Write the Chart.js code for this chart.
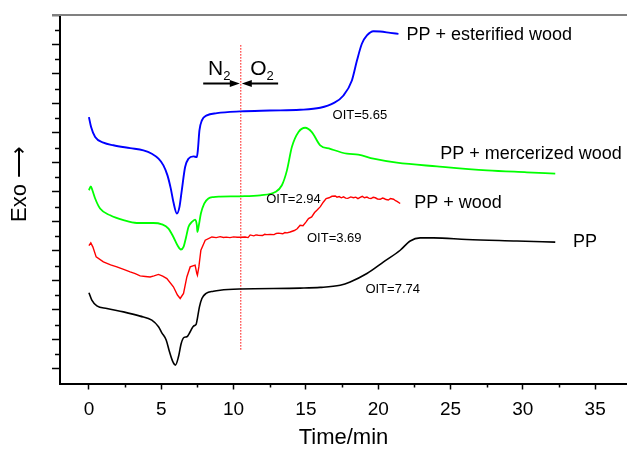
<!DOCTYPE html>
<html>
<head>
<meta charset="utf-8">
<script src="https://cdn.jsdelivr.net/npm/chart.js@4/dist/chart.umd.min.js"></script>
<style>
  html, body { margin: 0; padding: 0; background: #fff; }
</style>
</head>
<body>
<canvas id="oitChart" width="627" height="451"></canvas>
<script>
// DSC curves (time in min, exo signal in arbitrary units)
const esterTime = [0, 0.15, 0.43, 1.0, 1.69, 2.85, 3.77, 4.35, 4.81, 5.15, 5.43, 5.66, 5.84, 6.08, 6.26, 6.42, 6.65, 6.88, 7.23, 7.46, 7.53, 7.64, 7.81, 8.15, 8.85, 10.46, 12.5, 14.6, 15.99, 16.91, 17.6, 18.18, 18.53, 18.87, 19.22, 19.67, 20.14, 20.83, 21.4];
const esterExo = [18.07, 17.40, 16.72, 16.34, 16.16, 15.97, 15.82, 15.59, 15.25, 14.80, 14.12, 13.22, 12.31, 11.53, 11.98, 13.11, 14.69, 15.25, 15.41, 15.36, 15.82, 17.17, 17.85, 18.19, 18.34, 18.46, 18.52, 18.57, 18.71, 19.02, 19.54, 20.56, 21.91, 23.05, 23.61, 23.90, 23.88, 23.79, 23.72];

const mercTime = [0, 0.13, 0.24, 0.43, 0.77, 1.47, 2.39, 3.31, 4.46, 5.04, 5.5, 5.84, 6.12, 6.36, 6.54, 6.72, 6.88, 7.12, 7.34, 7.46, 7.5, 7.6, 7.74, 7.97, 8.26, 8.61, 9.07, 10.46, 11.84, 12.88, 13.34, 13.69, 14.03, 14.49, 14.95, 15.41, 15.99, 16.68, 17.84, 18.62, 19.67, 21.29, 24.06, 27.52, 30.28, 32.24];
const mercExo = [13.11, 13.38, 13.11, 12.55, 11.87, 11.41, 11.08, 10.89, 10.89, 10.80, 10.51, 9.94, 9.38, 9.09, 9.27, 9.94, 10.62, 10.96, 11.12, 10.74, 10.28, 10.74, 11.53, 12.21, 12.55, 12.65, 12.68, 12.70, 12.77, 12.99, 13.45, 14.46, 16.04, 17.06, 17.35, 17.06, 16.16, 15.92, 15.59, 15.53, 15.25, 14.98, 14.73, 14.46, 14.33, 14.24];

const woodTime = [0, 0.13, 0.27, 0.5, 1.0, 1.5, 1.93, 2.4, 2.85, 3.2, 3.54, 3.9, 4.23, 4.5, 4.81, 5.1, 5.39, 5.84, 6.12, 6.31, 6.54, 6.77, 7.0, 7.34, 7.46, 7.5, 7.6, 7.74, 8.04, 8.5, 8.8, 9.07, 9.3, 9.5, 9.75, 10.0, 10.25, 10.46, 10.8, 11.0, 11.15, 11.4, 11.55, 11.7, 12.0, 12.15, 12.3, 12.53, 12.8, 12.95, 13.1, 13.4, 13.55, 13.7, 13.91, 14.2, 14.4, 14.6, 14.8, 15.0, 15.18, 15.4, 15.6, 15.76, 16.0, 16.2, 16.4, 16.6, 16.8, 17.03, 17.15, 17.3, 17.45, 17.6, 17.75, 17.9, 18.1, 18.29, 18.45, 18.6, 18.75, 18.9, 19.05, 19.22, 19.35, 19.5, 19.65, 19.8, 19.95, 20.14, 20.3, 20.4, 20.55, 20.7, 20.85, 21.06, 21.2, 21.3, 21.52];
const woodExo = [9.35, 9.54, 9.27, 8.59, 8.25, 8.05, 7.91, 7.74, 7.57, 7.45, 7.30, 7.26, 7.23, 7.30, 7.40, 7.28, 7.12, 6.56, 6.00, 5.77, 6.11, 7.23, 7.91, 8.03, 7.46, 7.35, 7.91, 9.04, 9.72, 9.94, 9.90, 9.96, 9.91, 9.93, 9.90, 9.95, 9.92, 9.92, 9.94, 9.90, 10.08, 10.02, 10.08, 10.06, 10.04, 10.12, 10.10, 10.12, 10.10, 10.18, 10.20, 10.16, 10.24, 10.22, 10.28, 10.38, 10.50, 10.74, 10.70, 10.95, 11.19, 11.30, 11.60, 11.75, 12.00, 12.30, 12.55, 12.60, 12.70, 12.72, 12.64, 12.68, 12.60, 12.66, 12.58, 12.56, 12.66, 12.60, 12.64, 12.54, 12.62, 12.70, 12.60, 12.65, 12.58, 12.55, 12.63, 12.60, 12.52, 12.50, 12.58, 12.55, 12.48, 12.45, 12.55, 12.50, 12.40, 12.35, 12.21];

const ppTime = [0, 0.2, 0.55, 1.24, 2.39, 3.54, 4.35, 4.81, 5.04, 5.34, 5.57, 5.8, 5.98, 6.19, 6.38, 6.58, 6.77, 7.0, 7.23, 7.41, 7.5, 7.64, 7.81, 8.1, 8.61, 9.07, 10.46, 14.6, 15.99, 17.37, 18.06, 19.22, 20.37, 21.52, 22.21, 22.9, 23.82, 26.13, 29.59, 32.24];
const ppExo = [6.16, 5.66, 5.27, 5.09, 4.86, 4.57, 4.30, 3.85, 3.44, 2.95, 2.15, 1.48, 1.25, 1.81, 2.72, 3.13, 3.17, 3.51, 3.90, 4.01, 4.42, 5.20, 5.77, 6.11, 6.26, 6.33, 6.41, 6.47, 6.52, 6.67, 6.89, 7.46, 8.25, 9.04, 9.67, 9.88, 9.88, 9.77, 9.67, 9.59];

// gas switch N2 -> O2
const switchTime = 10.5;
const switchSpan = [2.3, 23.0];

// axis ticks
const xTicks = [0, 5, 10, 15, 20, 25, 30, 35];
const xMinor = [2.5, 7.5, 12.5, 17.5, 22.5, 27.5, 32.5];
const yTicks = [1, 3, 5, 7, 9, 11, 13, 15, 17, 19, 21, 23, 25];
const yMinor = [2, 4, 6, 8, 10, 12, 14, 16, 18, 20, 22, 24];

// curve names and OIT notes
const curveNames = ['PP + esterified wood', 'PP + mercerized wood', 'PP + wood', 'PP'];
const curveNameAt = [[21.95, 23.66], [24.29, 15.59], [22.49, 12.25], [33.46, 9.61]];
const oitNotes = ['OIT=5.65', 'OIT=2.94', 'OIT=3.69', 'OIT=7.74'];
const oitNoteAt = [[18.73, 18.19], [14.14, 12.48], [16.96, 9.84], [21.0, 6.38]];

const FONT = '"Liberation Sans", Arial, Helvetica, sans-serif';

function pairs(xs, ys) {
  return xs.map((x, i) => ({ x: x, y: ys[i] }));
}

function curve(label, xs, ys, color, width) {
  return {
    label: label,
    data: pairs(xs, ys),
    borderColor: color,
    borderWidth: width,
    pointRadius: 0,
    fill: false,
    cubicInterpolationMode: 'monotone'
  };
}

// extra marks: minor ticks, top frame, text notes, N2/O2 arrows
const decorations = {
  id: 'decorations',
  afterDraw(chart) {
    const ctx = chart.ctx;
    const xs = chart.scales.x, ys = chart.scales.y;
    const area = chart.chartArea;
    ctx.save();

    // top frame line
    ctx.strokeStyle = '#808080';
    ctx.lineWidth = 2;
    ctx.beginPath();
    ctx.moveTo(area.left - 8, area.top);
    ctx.lineTo(area.right, area.top);
    ctx.stroke();

    // minor ticks
    ctx.strokeStyle = '#000';
    ctx.lineWidth = 1.5;
    ctx.beginPath();
    xMinor.forEach(v => {
      const px = Math.round(xs.getPixelForValue(v)) + 0.5;
      ctx.moveTo(px, area.bottom);
      ctx.lineTo(px, area.bottom + 4);
    });
    yMinor.forEach(v => {
      const py = Math.round(ys.getPixelForValue(v)) + 0.5;
      ctx.moveTo(area.left - 5, py);
      ctx.lineTo(area.left, py);
    });
    ctx.stroke();

    ctx.fillStyle = '#000';
    ctx.textBaseline = 'middle';

    // curve names
    ctx.font = '18px ' + FONT;
    ctx.textAlign = 'left';
    curveNames.forEach((t, i) => {
      ctx.fillText(t, xs.getPixelForValue(curveNameAt[i][0]), ys.getPixelForValue(curveNameAt[i][1]));
    });

    // OIT notes
    ctx.font = '13px ' + FONT;
    ctx.textAlign = 'center';
    oitNotes.forEach((t, i) => {
      ctx.fillText(t, xs.getPixelForValue(oitNoteAt[i][0]), ys.getPixelForValue(oitNoteAt[i][1]));
    });

    // N2 / O2 arrows meeting at the switch line
    const ay = ys.getPixelForValue(20.36);
    const sx = xs.getPixelForValue(switchTime);
    const nStart = xs.getPixelForValue(7.9);
    const oStart = xs.getPixelForValue(13.08);
    ctx.lineWidth = 2;
    ctx.beginPath();
    ctx.moveTo(nStart, ay); ctx.lineTo(sx - 8, ay);
    ctx.moveTo(oStart, ay); ctx.lineTo(sx + 8, ay);
    ctx.stroke();
    ctx.beginPath();
    ctx.moveTo(sx - 1, ay); ctx.lineTo(sx - 11, ay - 3.5); ctx.lineTo(sx - 11, ay + 3.5); ctx.closePath();
    ctx.moveTo(sx + 1, ay); ctx.lineTo(sx + 11, ay - 3.5); ctx.lineTo(sx + 11, ay + 3.5); ctx.closePath();
    ctx.fill();

    ctx.textAlign = 'left';
    ctx.textBaseline = 'alphabetic';
    const baseY = ys.getPixelForValue(20.9);
    ctx.font = '21px ' + FONT;
    const nx = xs.getPixelForValue(8.24);
    ctx.fillText('N', nx, baseY);
    const nw = ctx.measureText('N').width;
    const ox = xs.getPixelForValue(11.15);
    ctx.fillText('O', ox, baseY);
    const ow = ctx.measureText('O').width;
    ctx.font = '13px ' + FONT;
    ctx.fillText('2', nx + nw, baseY + 5);
    ctx.fillText('2', ox + ow, baseY + 5);

    ctx.restore();
  }
};

new Chart(document.getElementById('oitChart'), {
  type: 'line',
  data: {
    datasets: [
      curve(curveNames[0], esterTime, esterExo, '#0000ff', 1.9),
      curve(curveNames[1], mercTime, mercExo, '#00ff00', 1.8),
      { ...curve(curveNames[2], woodTime, woodExo, '#ff0000', 1.4), cubicInterpolationMode: 'default', tension: 0 },
      curve(curveNames[3], ppTime, ppExo, '#000000', 1.6),
      {
        label: 'switch',
        data: [{ x: switchTime, y: switchSpan[0] }, { x: switchTime, y: switchSpan[1] }],
        borderColor: '#ff0000',
        borderWidth: 1,
        borderDash: [1.5, 1.5],
        pointRadius: 0
      }
    ]
  },
  options: {
    responsive: false,
    animation: false,
    layout: { padding: { top: 15, right: 0, bottom: 0, left: 0 } },
    plugins: {
      legend: { display: false },
      tooltip: { enabled: false }
    },
    scales: {
      x: {
        type: 'linear',
        min: -2,
        max: 37.2,
        afterBuildTicks: s => { s.ticks = xTicks.map(v => ({ value: v })); },
        afterFit: s => { s.height = 67.5; },
        ticks: {
          color: '#000',
          font: { family: FONT, size: 19 },
          padding: 9,
          maxRotation: 0,
          autoSkip: false
        },
        grid: { drawOnChartArea: false, tickLength: 6, tickWidth: 1.5, tickColor: '#000' },
        border: { display: true, color: '#000', width: 2 },
        title: {
          display: true,
          text: 'Time/min',
          color: '#000',
          font: { family: FONT, size: 22 },
          padding: { top: 0, bottom: 0 }
        }
      },
      y: {
        type: 'linear',
        min: 0,
        max: 25,
        afterBuildTicks: s => { s.ticks = yTicks.map(v => ({ value: v })); },
        afterFit: s => { s.width = 60; },
        ticks: { display: false },
        grid: { drawOnChartArea: false, tickLength: 8, tickWidth: 1.5, tickColor: '#000' },
        border: { display: true, color: '#000', width: 2 },
        title: {
          display: true,
          text: '     Exo \u27F6',
          color: '#000',
          font: { family: FONT, size: 22 },
          padding: { top: 7, bottom: 0 }
        }
      }
    }
  },
  plugins: [decorations]
});
</script>
</body>
</html>
